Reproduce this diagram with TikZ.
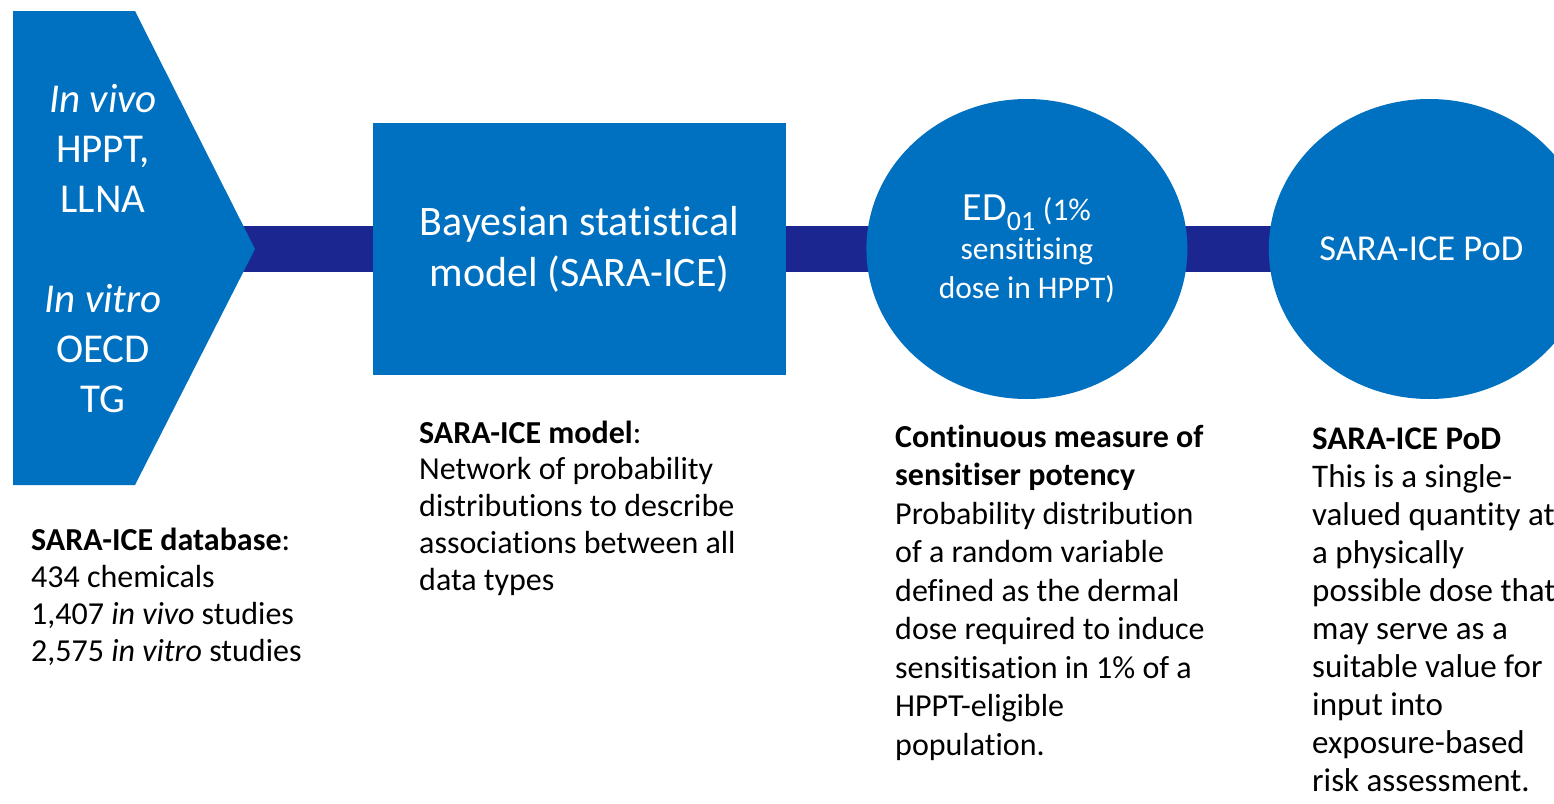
\documentclass[tikz,border=0pt]{standalone}
\usepackage{fontspec}
\setmainfont[Ligatures=NoCommon]{Carlito}
\usetikzlibrary{positioning,shapes.geometric,backgrounds}
\definecolor{boxblue}{RGB}{0,112,192}
\definecolor{barnavy}{RGB}{27,38,145}

\begin{document}
\begin{tikzpicture}[x=1pt,y=-1pt,node distance=80pt,
                    bar/.style={draw=barnavy,line width=46pt},
                    note/.style={anchor=base west,align=left,inner sep=0pt,
                                 font=\fontsize{32}{36.7}\selectfont}]
  \tikzstyle{block}=[fill=boxblue,text=white,align=center,inner sep=0pt]
  \tikzstyle{bubble}=[block,ellipse,minimum width=321pt,minimum height=300pt]

  \useasboundingbox (0,0) rectangle (1554,803);
  \clip (0,0) rectangle (1554,803);

  % input data arrow
  \fill[boxblue] (13,11) -- (135,11) -- (255,249) -- (135,485) -- (13,485) -- cycle;
  \node[block, fill=none, font=\fontsize{41}{50}\selectfont] (data) at (103,249)
    {\textit{In vivo}\\HPPT,\\LLNA\\[50pt]\textit{In vitro}\\OECD\\TG};

  \node[block, minimum width=413pt, minimum height=252pt,
        font=\fontsize{42}{51}\selectfont] (model) at (579.5,249)
    {Bayesian statistical\\model (SARA-ICE)};
  \node[bubble, font=\fontsize{31.5}{39}\selectfont, right=80pt of model] (ed)
    {{\fontsize{40}{39}\selectfont ED\textsubscript{01}} (1\%\\sensitising\\dose in HPPT)};
  \node[bubble, font=\fontsize{36.5}{44}\selectfont, right=81pt of ed] (pod)
    {SARA-ICE PoD\kern16pt};

  % the thick line behind the steps
  \begin{scope}[on background layer]
    \fill[white] (0,0) rectangle (1554,803);
    \draw[bar] (data.center) -- (pod.center);
  \end{scope}

  % descriptions under each step
  \node[note] (dbnote) at (31,661)
    {\textbf{SARA-ICE database}:\\434 chemicals\\1,407 \textit{in vivo} studies\\2,575 \textit{in vitro} studies};
  \node[note] (modelnote) at (419,590)
    {\textbf{SARA-ICE model}:\\Network of probability\\distributions to describe\\associations between all\\data types};
  \node[note, font=\fontsize{32}{38.5}\selectfont] (ednote) at (895,755)
    {\textbf{Continuous measure of}\\\textbf{sensitiser potency}\\Probability distribution\\of a random variable\\defined as the dermal\\dose required to induce\\sensitisation in 1\% of a\\HPPT-eligible\\population.};
  \node[note, font=\fontsize{33}{38}\selectfont] (podnote) at (1312,791)
    {\textbf{SARA-ICE PoD}\\This is a single-\\valued quantity at\\a physically\\possible dose that\\may serve as a\\suitable value for\\input into\\exposure-based\\risk assessment.};
\end{tikzpicture}
\end{document}
